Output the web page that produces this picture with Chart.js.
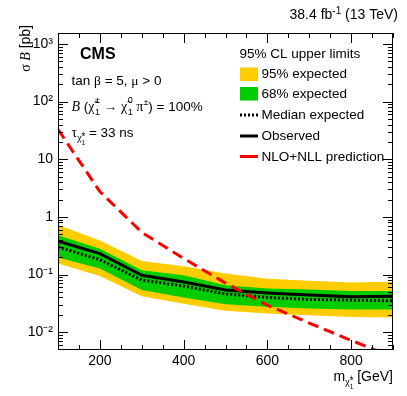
<!DOCTYPE html>
<html><head><meta charset="utf-8">
<script src="https://cdn.jsdelivr.net/npm/chart.js@4/dist/chart.umd.min.js"></script>
<style>html,body{margin:0;padding:0;background:#fff;}#wrap{width:407px;height:396px;}</style>
</head><body><div id="wrap"><canvas id="c" width="407" height="396"></canvas></div>
<script>
// ---- data ----
const masses = [100, 200, 300, 400, 500, 600, 700, 800, 900];
const observed = [0.38, 0.23, 0.097, 0.074, 0.054, 0.048, 0.044, 0.041, 0.042];
const expectedMedian = [0.30, 0.18, 0.080, 0.063, 0.046, 0.040, 0.037, 0.036, 0.035];
const expected68Up = [0.48, 0.28, 0.119, 0.097, 0.065, 0.057, 0.055, 0.052, 0.052];
const expected68Down = [0.197, 0.127, 0.054, 0.040, 0.0305, 0.0275, 0.0257, 0.0247, 0.0247];
const expected95Up = [0.72, 0.39, 0.172, 0.139, 0.104, 0.084, 0.078, 0.073, 0.075];
const expected95Down = [0.155, 0.094, 0.042, 0.031, 0.0235, 0.021, 0.0197, 0.0184, 0.0179];
const theory = [33, 2.74, 0.54, 0.19, 0.071, 0.0293, 0.0144, 0.0072, 0.0037];
const xTickValues = [200, 400, 600, 800];
const xTickLabels = ["200", "400", "600", "800"];
const yTickValues = [0.01, 0.1, 1, 10, 100, 1000];
const yTickLabels = ["10\u207B\u00B2", "10\u207B\u00B9", "1", "10", "10\u00B2", "10\u00B3"];
const legendTitle = "95% CL upper limits";
const legendLabels = ["95% expected", "68% expected", "Median expected", "Observed", "NLO+NLL prediction"];

const SANS = '"Liberation Sans", Arial, sans-serif';
const SERIF = '"Liberation Serif", "Times New Roman", serif';
const YELLOW = '#FFCC00', GREEN = '#00CC00', RED = '#FF0000';
const CHI = '\u03C7\u0303';

function pts(vals){ return masses.map((m,i)=>({x:m, y:vals[i]})); }

function segFont(s){ return (s.st||'') + ' ' + s.s + 'px ' + (s.f||SANS); }
function richWidth(ctx, segs){
  let w = 0;
  for (const s of segs){
    if (s.stack){
      ctx.font = s.s + 'px ' + (s.f||SANS);
      w += Math.max(ctx.measureText(s.stack[0]).width, ctx.measureText(s.stack[1]).width);
    } else { ctx.font = segFont(s); w += ctx.measureText(s.t).width; }
  }
  return w;
}
function drawRich(ctx, x, y, segs, align){
  let cx = x;
  if (align === 'right') cx = x - richWidth(ctx, segs);
  ctx.textBaseline = 'alphabetic'; ctx.textAlign = 'left';
  for (const s of segs){
    if (s.stack){
      ctx.font = s.s + 'px ' + (s.f||SANS);
      ctx.fillText(s.stack[0], cx, y + s.up);
      ctx.fillText(s.stack[1], cx, y + s.down);
      cx += Math.max(ctx.measureText(s.stack[0]).width, ctx.measureText(s.stack[1]).width);
    } else {
      ctx.font = segFont(s);
      ctx.fillText(s.t, cx, y + (s.dy||0));
      cx += ctx.measureText(s.t).width;
    }
  }
}

const decor = {
  id: 'decor',
  afterDraw(chart){
    const {ctx, chartArea:a, scales:{x, y}} = chart;
    ctx.save();
    // frame
    ctx.strokeStyle = '#000'; ctx.lineWidth = 1; ctx.setLineDash([]);
    ctx.strokeRect(a.left + 0.5, a.top + 0.5, a.right - a.left - 1, a.bottom - a.top - 1);
    ctx.beginPath();
    for (let e = -3; e <= 3; e++){
      for (let m = 1; m <= 9; m++){
        const v = m * Math.pow(10, e);
        if (v < y.min || v > y.max) continue;
        const py = Math.round(y.getPixelForValue(v)) + 0.5;
        const len = m === 1 ? 10 : 5;
        ctx.moveTo(a.left, py); ctx.lineTo(a.left + len, py);
        ctx.moveTo(a.right, py); ctx.lineTo(a.right - len, py);
      }
    }
    for (let v = 100; v <= 900; v += 50){
      const px = Math.round(x.getPixelForValue(v)) + 0.5;
      const len = v % 200 === 0 ? 10 : 5;
      ctx.moveTo(px, a.bottom); ctx.lineTo(px, a.bottom - len);
      ctx.moveTo(px, a.top); ctx.lineTo(px, a.top + len);
    }
    ctx.stroke();

    ctx.fillStyle = '#000';
    // top-right lumi text
    drawRich(ctx, 398, 19, [
      {t:'38.4 fb', s:14}, {t:'-1', s:10, dy:-5}, {t:' (13 TeV)', s:14}
    ], 'right');
    // CMS label
    drawRich(ctx, 80, 59, [{t:'CMS', s:16, st:'bold'}]);
    drawRich(ctx, 71.5, 84.5, [
      {t:'tan ', s:13.5}, {t:'\u03B2', s:13.5, f:SERIF}, {t:' = 5, ', s:13.5},
      {t:'\u03BC', s:13.5, f:SERIF}, {t:' > 0', s:13.5}
    ]);
    drawRich(ctx, 71.5, 111, [
      {t:'B', s:14, st:'italic', f:SERIF}, {t:' (', s:13.5}, {t:CHI, s:14, f:SERIF},
      {t:' ', s:2}, {stack:['\u00B1','1'], s:9, up:-8, down:4},
      {t:' \u2192 ', s:13.5}, {t:CHI, s:14, f:SERIF},
      {t:' ', s:2}, {stack:['0','1'], s:9, up:-8, down:4},
      {t:' \u03C0', s:14, f:SERIF}, {t:'\u00B1', s:9, dy:-6}, {t:') = 100%', s:13.5}
    ]);
    drawRich(ctx, 71.5, 136.5, [
      {t:'\u03C4', s:14, f:SERIF}, {t:CHI, s:10, f:SERIF, dy:4},
      {stack:['\u00B1','1'], s:6.5, up:-1, down:8},
      {t:' = 33 ns', s:13.5}
    ]);

    // legend
    const ds = chart.data.datasets;
    const lx = 240, tx = 261.5;
    ctx.font = '13.5px ' + SANS;
    ctx.fillText(legendTitle, 239.5, 57.5);
    ctx.fillStyle = ds[5].backgroundColor; ctx.fillRect(lx, 67.5, 18, 13.5);
    ctx.fillStyle = ds[3].backgroundColor; ctx.fillRect(lx, 87, 18, 13.5);
    const lineItem = (d, yy) => {
      ctx.strokeStyle = d.borderColor; ctx.lineWidth = d.borderWidth;
      ctx.setLineDash(d.legendDash || []);
      ctx.beginPath(); ctx.moveTo(lx, yy); ctx.lineTo(lx + 18, yy); ctx.stroke();
    };
    lineItem(ds[2], 115);
    lineItem(ds[1], 136);
    lineItem(ds[0], 156.5);
    ctx.setLineDash([]);
    ctx.fillStyle = '#000';
    ctx.font = '13.5px ' + SANS;
    const bl = [77.5, 97.8, 118.5, 140, 160.7];
    legendLabels.forEach((t, i) => ctx.fillText(t, tx, bl[i]));

    // x title
    drawRich(ctx, 393, 381, [
      {t:'m', s:14}, {t:CHI, s:10, f:SERIF, dy:4},
      {stack:['\u00B1','1'], s:6.5, up:-1, down:8},
      {t:' [GeV]', s:14}
    ], 'right');
    // y title (rotated)
    ctx.save();
    ctx.translate(29.5, 25);
    ctx.rotate(-Math.PI / 2);
    drawRich(ctx, 0, 0, [
      {t:'\u03C3 ', s:14, f:SERIF}, {t:'B', s:14, st:'italic', f:SERIF}, {t:' [pb]', s:14}
    ], 'right');
    ctx.restore();
    ctx.restore();
  }
};

const common = {pointRadius:0, pointHoverRadius:0, tension:0};
new Chart(document.getElementById('c'), {
  type: 'line',
  data: {
    datasets: [
      {label:'NLO+NLL prediction', data:pts(theory), borderColor:RED, borderWidth:3, borderDash:[11,6], legendDash:[], fill:false, ...common},
      {label:'Observed', data:pts(observed), borderColor:'#000', borderWidth:3, fill:false, ...common},
      {label:'Median expected', data:pts(expectedMedian), borderColor:'#000', borderWidth:3, borderDash:[2,2], legendDash:[2,2], fill:false, ...common},
      {label:'68% expected up', data:pts(expected68Up), borderColor:'rgba(0,0,0,0)', borderWidth:1, backgroundColor:GREEN, fill:'+1', ...common},
      {label:'68% expected down', data:pts(expected68Down), borderColor:'rgba(0,0,0,0)', borderWidth:1, fill:false, ...common},
      {label:'95% expected up', data:pts(expected95Up), borderColor:'rgba(0,0,0,0)', borderWidth:1, backgroundColor:YELLOW, fill:'+1', ...common},
      {label:'95% expected down', data:pts(expected95Down), borderColor:'rgba(0,0,0,0)', borderWidth:1, fill:false, ...common}
    ]
  },
  options: {
    responsive:false, devicePixelRatio:1, animation:false, events:[],
    layout:{padding:{top:33, right:14, left:0, bottom:0}},
    plugins:{legend:{display:false}, tooltip:{enabled:false}, filler:{propagate:false}},
    scales:{
      x:{type:'linear', min:100, max:900,
        grid:{display:false, drawTicks:false}, border:{display:false},
        afterBuildTicks:(s)=>{ s.ticks = xTickValues.map(v=>({value:v})); },
        afterFit:(s)=>{ s.height = 46; },
        ticks:{color:'#000', padding:3, maxRotation:0, autoSkip:false,
          font:{family:SANS, size:14},
          callback:(v)=>xTickLabels[xTickValues.indexOf(v)]}
      },
      y:{type:'logarithmic', min:0.0049, max:1550,
        grid:{display:false, drawTicks:false}, border:{display:false},
        afterBuildTicks:(s)=>{ s.ticks = yTickValues.map(v=>({value:v})); },
        afterFit:(s)=>{ s.width = 58; },
        ticks:{color:'#000', padding:5, autoSkip:false,
          font:{family:SANS, size:14},
          callback:(v)=>{ const i = yTickValues.findIndex(t=>Math.abs(t-v)/t<1e-6); return i>=0 ? yTickLabels[i] : ''; }}
      }
    }
  },
  plugins:[decor]
});
</script>
</body></html>
